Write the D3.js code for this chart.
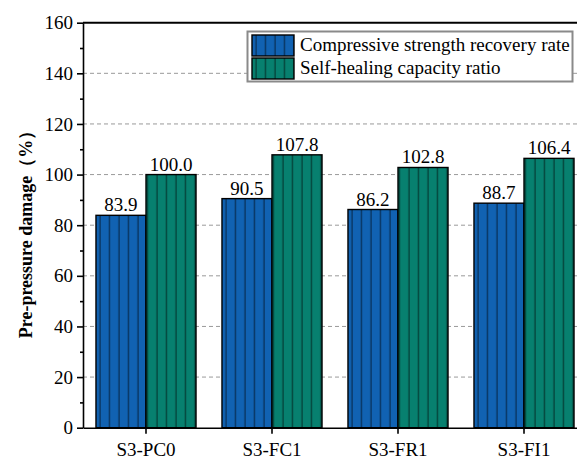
<!DOCTYPE html>
<html>
<head>
<meta charset="utf-8">
<script src="https://cdn.jsdelivr.net/npm/d3@7"></script>
<style>
    body { margin: 0; background: #fff; }
    svg { display: block; }
    svg text { font-family: "Liberation Serif", "DejaVu Serif", serif; }
</style>
</head>
<body>
<svg id="chart" width="577" height="460"></svg>
<script>
// data
var categories = ["S3-PC0", "S3-FC1", "S3-FR1", "S3-FI1"];
var seriesNames = ["Compressive strength recovery rate", "Self-healing capacity ratio"];
var recoveryRate = [83.9, 90.5, 86.2, 88.7];
var healingRatio = [100.0, 107.8, 102.8, 106.4];
var yTicks = [0, 20, 40, 60, 80, 100, 120, 140, 160];
var yMinorTicks = [10, 30, 50, 70, 90, 110, 130, 150];
var gridValues = [20, 40, 60, 80, 100, 120, 140];

var colors = ["#1162b2", "#07806f"];

var svg = d3.select("#chart");

var xLeft = 83, xRight = 587, yBottom = 427.7, yTop = 22.7;

var xScale = d3.scaleBand().domain(categories).range([xLeft, xRight])
    .paddingInner(0.206).paddingOuter(0.103);
var sub = d3.scaleBand().domain([0, 1]).range([0, xScale.bandwidth()]);
var yScale = d3.scaleLinear().domain([0, 160]).range([yBottom, yTop]);

// stripe patterns
var defs = svg.append("defs");
colors.forEach(function (c, i) {
    var p = defs.append("pattern")
        .attr("id", "stripe" + i)
        .attr("patternUnits", "userSpaceOnUse")
        .attr("width", 9.5).attr("height", 10);
    p.append("rect").attr("width", 9.5).attr("height", 10).attr("fill", c);
    p.append("line").attr("x1", 4).attr("x2", 4).attr("y1", 0).attr("y2", 10)
        .attr("stroke", "#000").attr("stroke-opacity", 0.65).attr("stroke-width", 1);
});

// grid
svg.append("g").selectAll("line")
    .data(gridValues)
    .enter().append("line")
    .attr("x1", xLeft).attr("x2", xRight)
    .attr("y1", d => yScale(d)).attr("y2", d => yScale(d))
    .attr("stroke", "#9a9a9a")
    .attr("stroke-width", 1)
    .attr("stroke-dasharray", "4,3");

// bars
var rows = categories.map(function (c, i) {
    return { cat: c, vals: [recoveryRate[i], healingRatio[i]] };
});

var groups = svg.append("g").selectAll("g")
    .data(rows)
    .enter().append("g")
    .attr("transform", d => "translate(" + xScale(d.cat) + ",0)");

groups.selectAll("rect")
    .data(d => d.vals.map(function (v, k) { return { k: k, v: v }; }))
    .enter().append("rect")
    .attr("x", d => sub(d.k))
    .attr("y", d => yScale(d.v))
    .attr("width", sub.bandwidth())
    .attr("height", d => yBottom - yScale(d.v))
    .attr("fill", d => "url(#stripe" + d.k + ")")
    .attr("stroke", "#000")
    .attr("stroke-width", 1.4);

groups.selectAll("text")
    .data(d => d.vals.map(function (v, k) { return { k: k, v: v }; }))
    .enter().append("text")
    .attr("x", d => sub(d.k) + sub.bandwidth() / 2)
    .attr("y", d => yScale(d.v) - 4)
    .attr("text-anchor", "middle")
    .attr("font-size", "19px")
    .text(d => d.v.toFixed(1));

// frame top
svg.append("line")
    .attr("x1", xLeft).attr("x2", xRight).attr("y1", yTop).attr("y2", yTop)
    .attr("stroke", "#000").attr("stroke-width", 2);

// y axis
svg.append("g")
    .attr("transform", "translate(" + xLeft + ",0)")
    .call(d3.axisLeft(yScale).tickValues(yTicks).tickSize(6).tickPadding(4).tickSizeOuter(0));
svg.append("g")
    .attr("transform", "translate(" + xLeft + ",0)")
    .call(d3.axisLeft(yScale).tickValues(yMinorTicks).tickSize(3).tickFormat("").tickSizeOuter(0))
    .select(".domain").remove();

// x axis
svg.append("g")
    .attr("transform", "translate(0," + yBottom + ")")
    .call(d3.axisBottom(xScale).tickSize(6).tickPadding(9).tickSizeOuter(0));

svg.selectAll(".tick text")
    .attr("font-size", "19px")
    .attr("fill", "#000");
svg.selectAll(".domain, .tick line")
    .attr("stroke", "#000")
    .attr("stroke-width", 1.6);

// y title
svg.append("text")
    .attr("transform", "translate(32,230) rotate(-90)")
    .attr("text-anchor", "middle")
    .attr("font-size", "18px")
    .attr("font-weight", "bold")
    .text("Pre-pressure damage（%）");

// legend
var legend = svg.append("g");
legend.append("rect")
    .attr("x", 247.5).attr("y", 31.5).attr("width", 325).attr("height", 50)
    .attr("fill", "#fff").attr("stroke", "#8a8a8a").attr("stroke-width", 2);

var legendItems = legend.selectAll("g")
    .data(seriesNames)
    .enter().append("g")
    .attr("transform", (d, i) => "translate(252," + (35 + i * 23) + ")");

legendItems.append("rect")
    .attr("width", 42).attr("height", 21)
    .attr("fill", (d, i) => "url(#stripe" + i + ")")
    .attr("stroke", "#000").attr("stroke-width", 1.4);

legendItems.append("text")
    .attr("x", 48).attr("y", 16)
    .attr("font-size", "19px")
    .text(d => d);
</script>
</body>
</html>
